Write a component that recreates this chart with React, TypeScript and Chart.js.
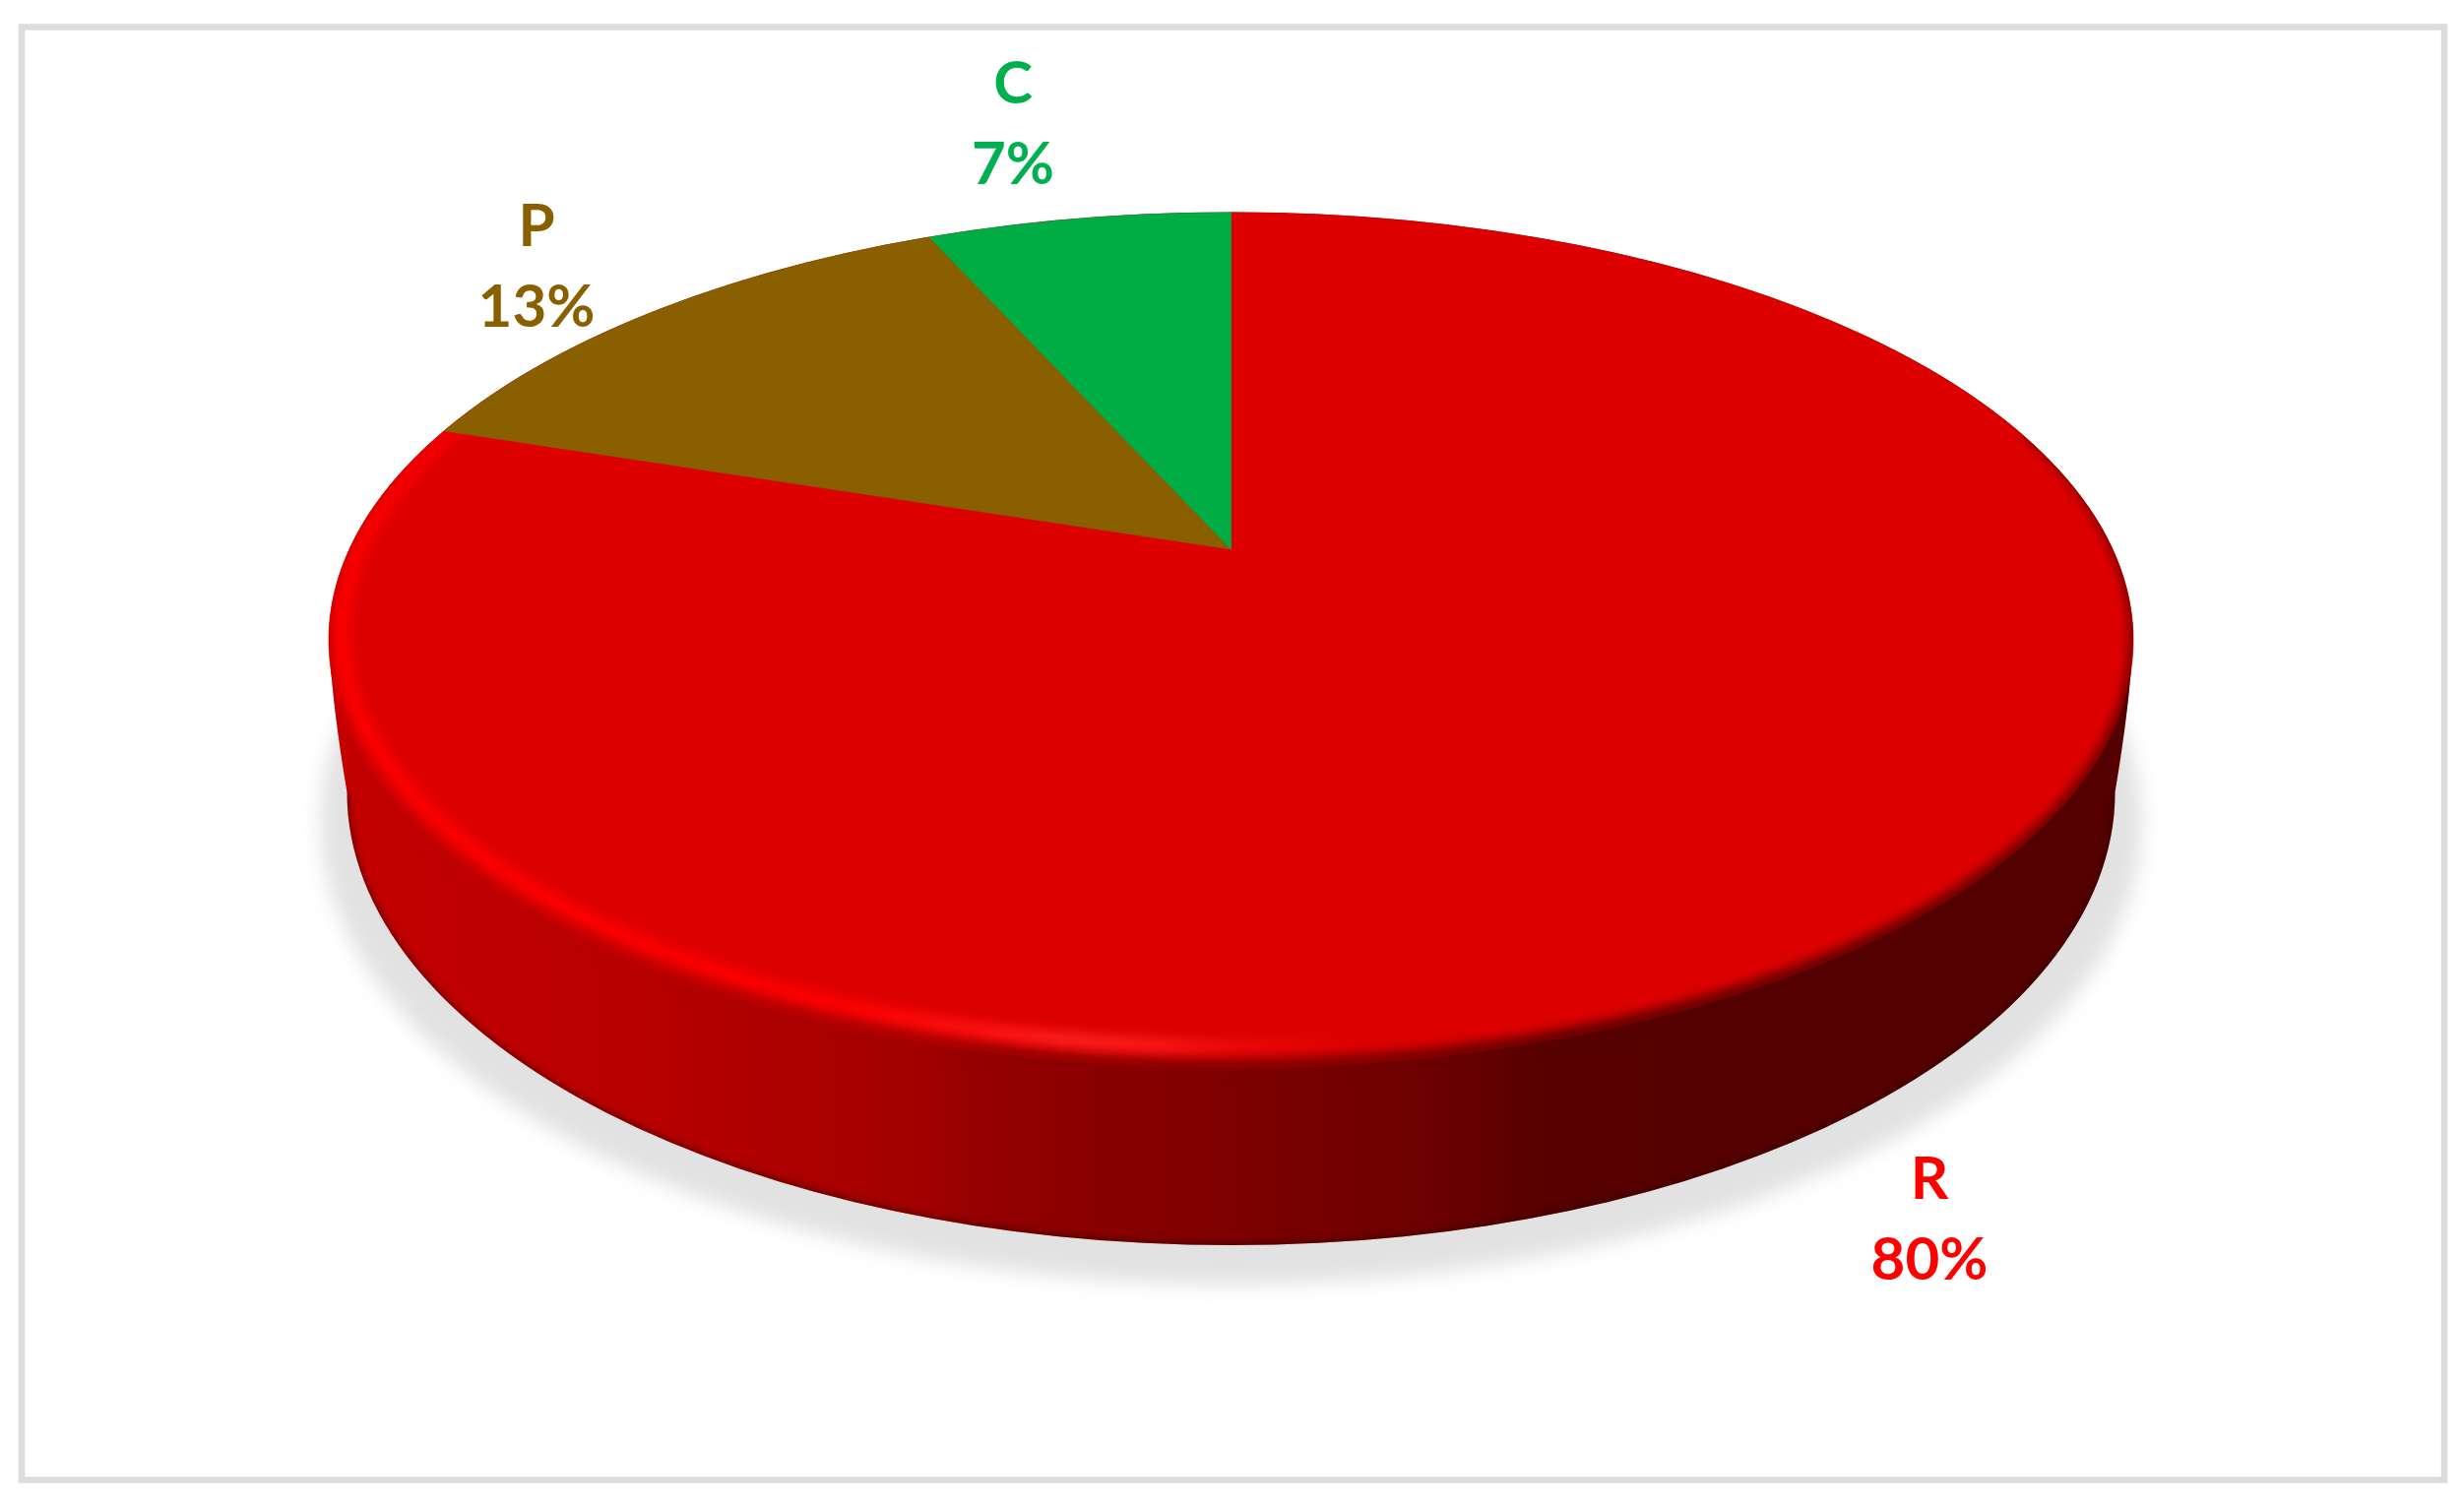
import React, { useEffect, useRef } from "react";
import { Chart, registerables } from "chart.js";

Chart.register(...registerables);

const categories = ["R", "P", "C"];
const shares = [80, 13.3, 6.7];
const sliceColors = ["#DD0000", "#8A5F00", "#00AD45"];
const labelColors = ["#FF0000", "#8A5F00", "#00B050"];

// Layout (pixels), kept apart from the data
const W = 2503;
const H = 1531;
const LABEL_POS = [
  { x: 1960, y: 1218 },
  { x: 545, y: 250 },
  { x: 1029, y: 105 },
];
const LINE_GAP = 82;
const CX = 1250.5;
const APEX_Y = 558;
const TOP = { cy: 650, a: 916.5, b: 434.5 };
const BOTTOM = { cy: 805, a: 898, b: 460 };
const PERSP = 0.2129;
const PROJ_A = TOP.a * Math.sqrt(1 - PERSP * PERSP);
const PROJ_B = 342 * (1 + PERSP);

function project(angle: number) {
  const u = Math.cos(angle);
  const v = Math.sin(angle);
  const d = 1 - PERSP * v;
  return { x: CX + (PROJ_A * u) / d, y: APEX_Y + (PROJ_B * v) / d };
}

function wedgePath(ctx: CanvasRenderingContext2D, start: number, end: number) {
  ctx.beginPath();
  ctx.moveTo(CX, APEX_Y);
  const steps = Math.max(8, Math.ceil((end - start) * 60));
  for (let i = 0; i <= steps; i++) {
    const p = project(start + ((end - start) * i) / steps);
    ctx.lineTo(p.x, p.y);
  }
  ctx.closePath();
}

function sideGradient(ctx: CanvasRenderingContext2D) {
  const g = ctx.createLinearGradient(334, 0, 2167, 0);
  const stops: [number, string][] = [
    [334, "#c40000"],
    [650, "#b80000"],
    [940, "#a20000"],
    [1010, "#930000"],
    [1250, "#7e0000"],
    [1440, "#6e0000"],
    [1580, "#560000"],
    [2167, "#540000"],
  ];
  stops.forEach(([x, c]) => g.addColorStop((x - 334) / (2167 - 334), c));
  return g;
}

function silhouette(ctx: CanvasRenderingContext2D) {
  const lx = CX - TOP.a;
  const rx = CX + TOP.a;
  ctx.beginPath();
  ctx.ellipse(CX, BOTTOM.cy, BOTTOM.a, BOTTOM.b, 0, 0, Math.PI);
  ctx.quadraticCurveTo(lx + 4, 720, lx, TOP.cy);
  ctx.ellipse(CX, TOP.cy, TOP.a, TOP.b, 0, Math.PI, Math.PI * 2);
  ctx.quadraticCurveTo(rx - 4, 720, CX + BOTTOM.a, BOTTOM.cy);
  ctx.closePath();
}

// Dark band that hugs the rim of the top face, thick in front, thin at the sides
function rimBand(ctx: CanvasRenderingContext2D) {
  const from = -0.5;
  const to = Math.PI + 0.5;
  const n = 240;
  const inset = (t: number) => {
    const s = Math.sin(t);
    if (s >= 0) return 3 + 6 * s;
    return Math.max(0, 3 * (1 + s / 0.48));
  };
  ctx.beginPath();
  for (let i = 0; i <= n; i++) {
    const t = from + ((to - from) * i) / n;
    const x = CX + (TOP.a + 6) * Math.cos(t);
    const y = TOP.cy + (TOP.b + 6) * Math.sin(t);
    if (i === 0) ctx.moveTo(x, y);
    else ctx.lineTo(x, y);
  }
  for (let i = n; i >= 0; i--) {
    const t = from + ((to - from) * i) / n;
    const d = inset(t);
    ctx.lineTo(CX + (TOP.a - d) * Math.cos(t), TOP.cy + (TOP.b - d) * Math.sin(t));
  }
  ctx.closePath();
}

const framePlugin = {
  id: "frame",
  beforeDraw(chart: any) {
    const ctx = chart.ctx;
    ctx.save();
    ctx.fillStyle = "#ffffff";
    ctx.fillRect(0, 0, W, H);
    ctx.strokeStyle = "#dcdcdc";
    ctx.lineWidth = 6.5;
    ctx.strokeRect(22, 27.5, 2461, 1476);
    ctx.restore();
  },
};

function drawSlice(ctx: CanvasRenderingContext2D, arc: any, color: string) {
  const { startAngle, endAngle } = arc.getProps(["startAngle", "endAngle"], true);
  wedgePath(ctx, startAngle, endAngle);
  ctx.fillStyle = color;
  ctx.fill();
  ctx.strokeStyle = color;
  ctx.lineWidth = 0.7;
  ctx.stroke();
}

const pie3dPlugin = {
  id: "pie3d",
  beforeDatasetsDraw(chart: any) {
    const ctx: CanvasRenderingContext2D = chart.ctx;
    const arcs = chart.getDatasetMeta(0).data;

    // Drop shadow
    ctx.save();
    ctx.filter = "blur(10px)";
    ctx.fillStyle = "#e2e2e2";
    ctx.beginPath();
    ctx.ellipse(CX, 835, 925, 470, 0, 0, Math.PI * 2);
    ctx.fill();
    ctx.restore();

    // Side wall
    ctx.save();
    silhouette(ctx);
    ctx.fillStyle = sideGradient(ctx);
    ctx.fill();
    ctx.clip();
    ctx.filter = "blur(3px)";
    ctx.strokeStyle = "rgba(50,0,0,0.55)";
    ctx.lineWidth = 6;
    ctx.beginPath();
    ctx.ellipse(CX, BOTTOM.cy, BOTTOM.a, BOTTOM.b, 0, 0, Math.PI);
    ctx.stroke();
    ctx.restore();

    // Large slice of the top surface, from the arc element's angles
    drawSlice(ctx, arcs[0], sliceColors[0]);

    // Soft edge between the top and the wall
    ctx.save();
    silhouette(ctx);
    ctx.clip();
    ctx.filter = "blur(6px)";
    ctx.fillStyle = sideGradient(ctx);
    rimBand(ctx);
    ctx.fill();
    ctx.restore();

    // Bevel highlight on the large slice
    ctx.save();
    silhouette(ctx);
    ctx.clip();
    const glow = ctx.createConicGradient(0, CX, 643);
    glow.addColorStop(0.2, "rgba(255,20,20,0)");
    glow.addColorStop(0.25, "rgba(255,20,20,0.5)");
    glow.addColorStop(0.28, "rgba(255,30,30,0.9)");
    glow.addColorStop(0.31, "rgba(255,34,34,1)");
    glow.addColorStop(0.38, "rgba(255,0,0,1)");
    glow.addColorStop(0.5, "rgba(255,0,0,1)");
    glow.addColorStop(0.535, "rgba(255,0,0,0.8)");
    glow.addColorStop(0.555, "rgba(255,0,0,0)");
    ctx.filter = "blur(6px)";
    ctx.strokeStyle = glow;
    ctx.lineWidth = 14;
    ctx.beginPath();
    ctx.ellipse(CX, 643, 903, 420, 0, 0, Math.PI * 2);
    ctx.stroke();
    ctx.restore();

    // Remaining slices sit on top of the highlight's soft end
    for (let i = 1; i < arcs.length; i++) drawSlice(ctx, arcs[i], sliceColors[i]);

    return false;
  },
  afterDraw(chart: any) {
    const ctx: CanvasRenderingContext2D = chart.ctx;
    ctx.save();
    ctx.font = "bold 60px Lato";
    ctx.textAlign = "center";
    ctx.textBaseline = "alphabetic";
    ctx.filter = "blur(0.6px)";
    categories.forEach((name, i) => {
      ctx.fillStyle = labelColors[i];
      ctx.fillText(name, LABEL_POS[i].x, LABEL_POS[i].y);
      ctx.fillText(`${Math.round(shares[i])}%`, LABEL_POS[i].x, LABEL_POS[i].y + LINE_GAP);
    });
    ctx.restore();
  },
};

export default function App() {
  const ref = useRef<HTMLCanvasElement | null>(null);
  useEffect(() => {
    document.body.style.margin = "0";
    const chart = new Chart(ref.current as HTMLCanvasElement, {
      type: "pie",
      data: {
        labels: categories,
        datasets: [{ data: shares, backgroundColor: sliceColors, borderWidth: 0 }],
      },
      options: {
        responsive: false,
        animation: false,
        plugins: { legend: { display: false }, tooltip: { enabled: false } },
      },
      plugins: [framePlugin, pie3dPlugin],
    } as any);
    return () => chart.destroy();
  }, []);
  return <canvas ref={ref} width={W} height={H} style={{ display: "block" }} />;
}
